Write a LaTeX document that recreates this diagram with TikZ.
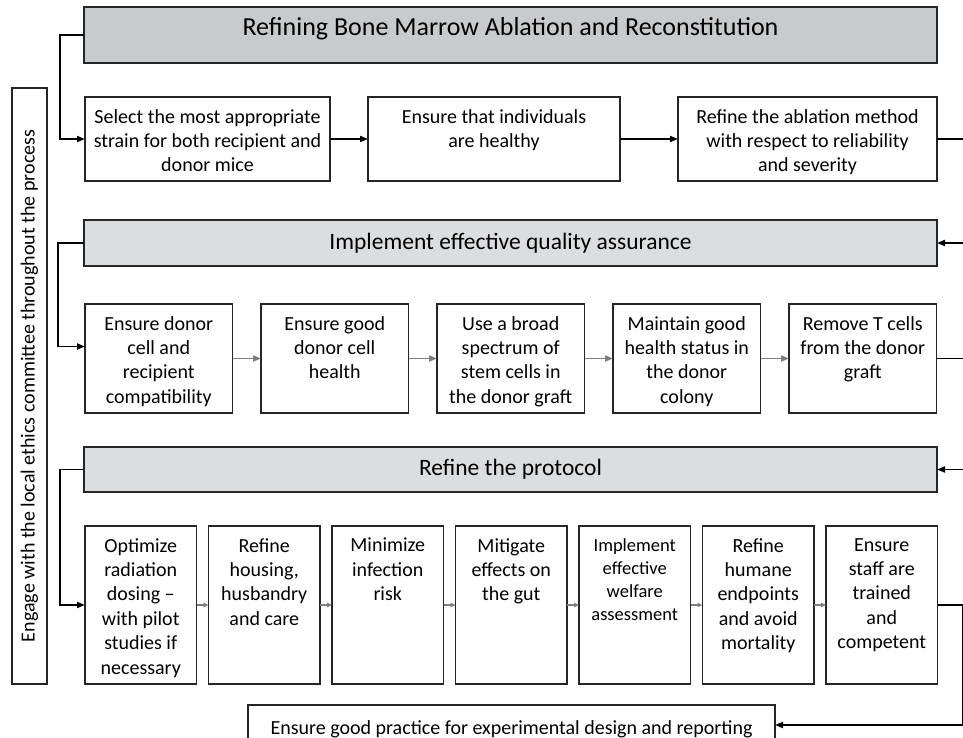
\documentclass[tikz,border=0pt]{standalone}
\usepackage{fontspec}
\setmainfont{Carlito}
\usetikzlibrary{arrows.meta, positioning}
\definecolor{boxline}{HTML}{262626}
\definecolor{headdark}{HTML}{C9CACB}
\definecolor{headlight}{HTML}{DCDDDE}
\definecolor{flowgrey}{HTML}{7F7F7F}

\begin{document}
\begin{tikzpicture}[x=1pt, y=-1pt,
  cell/.style={draw=boxline, line width=1.5pt, fill=white, inner sep=0pt, outer sep=0pt, anchor=north west},
  headbox/.style={cell, minimum width=853, fill=headlight, font=\fontsize{23.5}{28}\selectfont},
  celltext/.style={anchor=north, yshift=-12pt, align=center, inner sep=0pt, execute at begin node=\strut, font=\fontsize{20}{24.4}\selectfont},
  widecell/.style={cell, minimum height=84},
  midcell/.style={cell, minimum width=147.5, minimum height=109},
  tallcell/.style={cell, minimum width=111.5, minimum height=158},
  link/.style={-{Triangle[length=8pt,width=6pt]}, line width=1.8pt, black},
  flow/.style={-{Triangle[length=8pt,width=6pt]}, line width=1.8pt, flowgrey},
  smallflow/.style={-{Triangle[length=5pt,width=4.5pt]}, line width=1.5pt, flowgrey}]
  \useasboundingbox (0,0) rectangle (963,738);

  % side bar
  \node[cell, anchor=center, rotate=90, minimum width=596, minimum height=35, font=\fontsize{20}{24}\selectfont] (ethics) at (29.5,386) {Engage with the local ethics committee throughout the process};

  % stage 1
  \node[headbox, fill=headdark, minimum height=56, text height=18pt, text depth=16pt, font=\fontsize{26}{31}\selectfont] (ablhead) at (84,7) {Refining Bone Marrow Ablation and Reconstitution};
  \node[widecell, minimum width=245, label={[celltext]north:{Select the most appropriate\\strain for both recipient and\\donor mice}}] (acell) at (85,97) {};
  \node[widecell, minimum width=252, right=38pt of acell, label={[celltext]north:{Ensure that individuals\\are healthy}}] (bcell) {};
  \node[widecell, minimum width=259, right=58pt of bcell, label={[celltext]north:{Refine the ablation method\\with respect to reliability\\and severity}}] (ccell) {};

  % stage 2
  \node[headbox, minimum height=46] (qahead) at (84,220) {Implement effective quality assurance};
  \node[midcell, label={[celltext]north:{Ensure donor\\cell and\\recipient\\compatibility}}] (dcell) at (85,304) {};
  \node[midcell, right=28.5pt of dcell, label={[celltext]north:{Ensure good\\donor cell\\health}}] (ecell) {};
  \node[midcell, right=28.5pt of ecell, label={[celltext]north:{Use a broad\\spectrum of\\stem cells in\\the donor graft}}] (fcell) {};
  \node[midcell, right=28.5pt of fcell, label={[celltext]north:{Maintain good\\health status in\\the donor\\colony}}] (gcell) {};
  \node[midcell, right=28.5pt of gcell, label={[celltext]north:{Remove T cells\\from the donor\\graft}}] (hcell) {};

  % stage 3
  \node[headbox, minimum height=45] (protohead) at (84,447) {Refine the protocol};
  \node[tallcell, label={[celltext]north:{Optimize\\radiation\\dosing --\\with pilot\\studies if\\necessary}}] (icell) at (85,526) {};
  \node[tallcell, right=12pt of icell, label={[celltext]north:{Refine\\housing,\\husbandry\\and care}}] (jcell) {};
  \node[tallcell, right=12pt of jcell, label={[celltext]north:{Minimize\\infection\\risk}}] (kcell) {};
  \node[tallcell, right=12pt of kcell, label={[celltext]north:{Mitigate\\effects on\\the gut}}] (lcell) {};
  \node[tallcell, right=12pt of lcell, label={[celltext, font=\fontsize{18.5}{23}\selectfont]north:{Implement\\effective\\welfare\\assessment}}] (mcell) {};
  \node[tallcell, right=12pt of mcell, label={[celltext]north:{Refine\\humane\\endpoints\\and avoid\\mortality}}] (ncell) {};
  \node[tallcell, right=12pt of ncell, label={[celltext]north:{Ensure\\staff are\\trained\\and\\competent}}] (ocell) {};

  \node[cell, minimum width=527, minimum height=40, label={[celltext]north:{Ensure good practice for experimental design and reporting}}] (reportbox) at (248,705) {};

  % connectors
  \draw[link] (ablhead.west) -- ++(-24,0) |- (acell.west);
  \draw[link] (acell) -- (bcell);
  \draw[link] (bcell) -- (ccell);
  \draw[link] (ccell.east) -- ++(29,0) |- (qahead.east);

  \draw[link] (qahead.west) -- ++(-26,0) |- ([yshift=12pt]dcell.west);
  \foreach \a/\b in {dcell/ecell, ecell/fcell, fcell/gcell, gcell/hcell}
    \draw[flow] (\a) -- (\b);
  \draw[link] (hcell.east) -- ++(29,0) |- (protohead.east);

  \draw[link] (protohead.west) -- ++(-24,0) |- (icell.west);
  \foreach \a/\b in {icell/jcell, jcell/kcell, kcell/lcell, lcell/mcell, mcell/ncell, ncell/ocell}
    \draw[smallflow] (\a) -- (\b);
  \draw[link] (ocell.east) -- ++(25,0) |- (reportbox.east);
\end{tikzpicture}
\end{document}
